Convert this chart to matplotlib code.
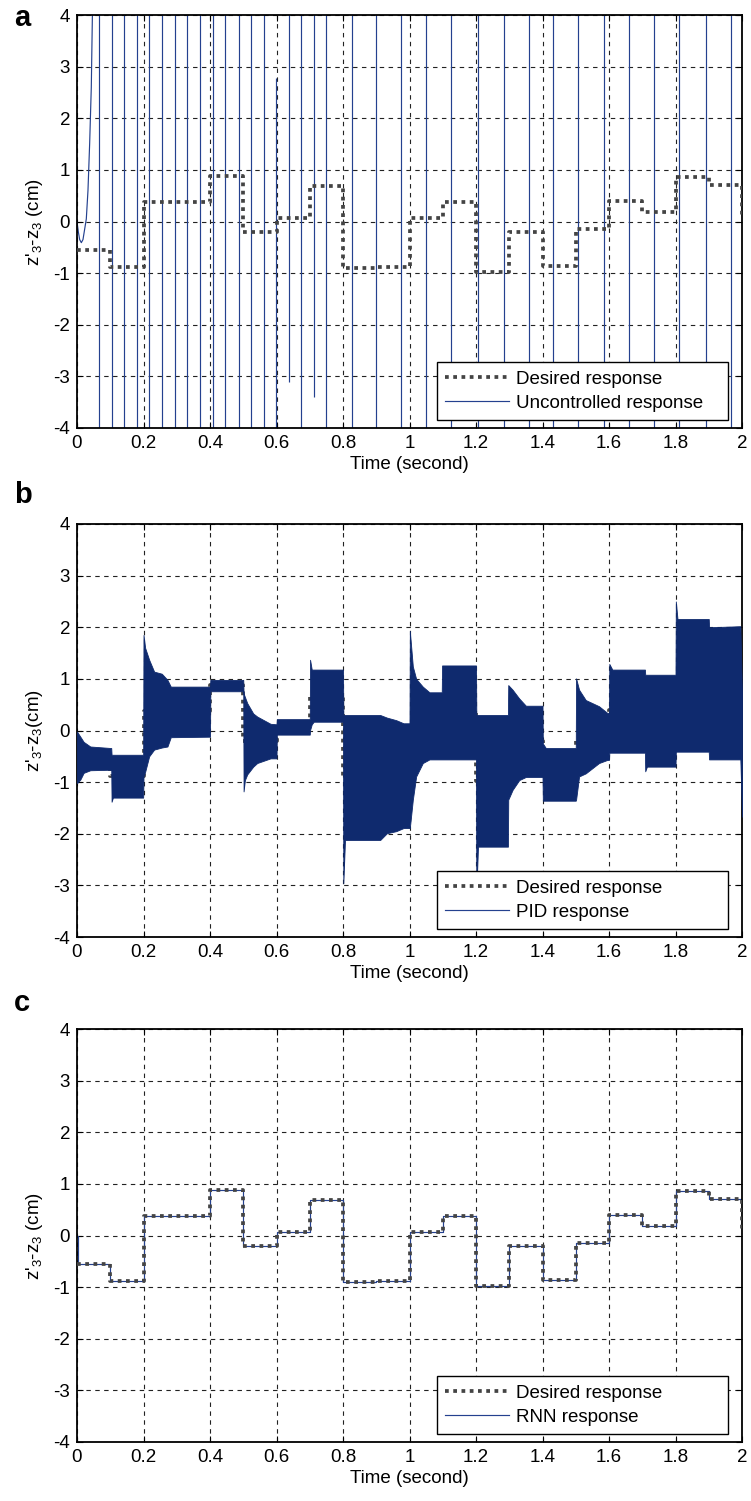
import matplotlib
matplotlib.use("Agg")
import matplotlib.pyplot as plt
from matplotlib.lines import Line2D
from matplotlib.ticker import FormatStrFormatter

plt.rcParams["font.family"] = ["Liberation Sans", "DejaVu Sans"]
plt.rcParams["mathtext.fontset"] = "custom"
plt.rcParams["mathtext.rm"] = "Liberation Sans"
plt.rcParams["mathtext.it"] = "Liberation Sans"
plt.rcParams["axes.unicode_minus"] = False

# === desired response (step levels, steps-post) ===
des_t = [0.0, 0.1, 0.2, 0.4, 0.5, 0.6, 0.7, 0.8, 0.9, 1.0, 1.1, 1.2,
         1.3, 1.4, 1.5, 1.6, 1.7, 1.8, 1.9, 2.0]
des_v = [-0.55, -0.88, 0.37, 0.88, -0.21, 0.06, 0.68, -0.91, -0.88, 0.06, 0.37, -0.97,
         -0.2, -0.87, -0.15, 0.39, 0.18, 0.87, 0.70, 0.05]

# === uncontrolled response: start of the curve + crossing lines ===
unc_t = [0.0, 0.004, 0.008, 0.013, 0.018, 0.023, 0.028, 0.033, 0.038, 0.043, 0.047]
unc_y = [0.0, -0.2, -0.35, -0.41, -0.35, -0.15, 0.05, 0.6, 1.5, 2.6, 4.3]
cross_t = [0.066, 0.104, 0.141, 0.179, 0.217, 0.255, 0.295, 0.330, 0.370, 0.409,
           0.446, 0.486, 0.524, 0.562, 0.599, 0.637, 0.675, 0.713, 0.750, 0.826,
           0.899, 0.975, 1.050, 1.126, 1.206, 1.284, 1.360, 1.433, 1.508, 1.586,
           1.659, 1.735, 1.812, 1.891, 1.967]
cross_lo = [-4.5] * 14 + [-4.5, -3.1, -4.5, -3.4] + [-4.5] * 17
cross_hi = [4.5] * 14 + [2.78, 4.5, 4.5, 4.5] + [4.5] * 17

# === PID response envelope (upper / lower edge of the oscillation band) ===
pid_t = [0.000, 0.010, 0.020, 0.040, 0.103, 0.104, 0.108, 0.199, 0.200, 0.205,
         0.217, 0.232, 0.255, 0.272, 0.282, 0.400, 0.401, 0.500, 0.501, 0.505,
         0.512, 0.530, 0.542, 0.582, 0.600, 0.601, 0.700, 0.701, 0.706, 0.712,
         0.800, 0.801, 0.806, 0.912, 0.932, 0.960, 0.982, 1.000, 1.001, 1.010,
         1.020, 1.040, 1.060, 1.097, 1.098, 1.200, 1.201, 1.206, 1.296, 1.297,
         1.310, 1.330, 1.350, 1.400, 1.401, 1.410, 1.500, 1.501, 1.510, 1.530,
         1.570, 1.595, 1.600, 1.601, 1.610, 1.708, 1.709, 1.714, 1.800, 1.801,
         1.806, 1.900, 1.901, 1.995, 2.000]
pid_hi = [-0.02, -0.12, -0.22, -0.31, -0.34, -0.47, -0.47, -0.47, 1.85, 1.60,
          1.37, 1.14, 1.10, 0.98, 0.85, 0.85, 0.98, 0.98, 0.72, 0.65,
          0.53, 0.33, 0.27, 0.13, 0.12, 0.22, 0.22, 1.37, 1.18, 1.18,
          1.18, 0.30, 0.30, 0.30, 0.25, 0.20, 0.14, 0.14, 1.93, 1.24,
          1.00, 0.85, 0.74, 0.74, 1.26, 1.26, 0.30, 0.30, 0.30, 0.88,
          0.79, 0.62, 0.48, 0.48, -0.25, -0.34, -0.34, 1.01, 0.79, 0.59,
          0.47, 0.34, 0.34, 1.29, 1.18, 1.18, 1.08, 1.08, 1.08, 2.50,
          2.16, 2.16, 2.00, 2.02, 0.70]
pid_lo = [-1.02, -0.95, -0.82, -0.77, -0.76, -1.38, -1.30, -1.30, -0.89, -0.80,
          -0.50, -0.37, -0.33, -0.31, -0.13, -0.12, 0.76, 0.76, -1.18, -0.96,
          -0.85, -0.70, -0.63, -0.54, -0.54, -0.08, -0.08, 0.01, 0.12, 0.17,
          0.17, -2.96, -2.12, -2.12, -1.99, -1.95, -1.89, -1.89, -1.89, -1.34,
          -0.89, -0.63, -0.56, -0.56, -0.56, -0.56, -3.15, -2.25, -2.25, -1.34,
          -1.15, -0.96, -0.90, -0.90, -1.36, -1.36, -1.36, -1.34, -0.89, -0.83,
          -0.63, -0.57, -0.57, -0.43, -0.43, -0.43, -0.79, -0.70, -0.70, -0.41,
          -0.41, -0.41, -0.56, -0.56, -1.67]

# === RNN response (tracks the desired steps) ===
rnn_t = [0.0, 0.004, 0.1, 0.2, 0.4, 0.5, 0.6, 0.7, 0.8, 0.9, 1.0, 1.1, 1.2,
         1.3, 1.4, 1.5, 1.6, 1.7, 1.8, 1.9, 2.0]
rnn_v = [0.0, -0.55, -0.88, 0.37, 0.88, -0.21, 0.06, 0.68, -0.91, -0.88, 0.06, 0.37, -0.97,
         -0.2, -0.87, -0.15, 0.39, 0.18, 0.87, 0.70, 0.05]

x_ticks = [0, 0.2, 0.4, 0.6, 0.8, 1.0, 1.2, 1.4, 1.6, 1.8, 2.0]
y_ticks = [-4, -3, -2, -1, 0, 1, 2, 3, 4]

FS = 13.5
DES_COLOR = "#444444"
BLUE = "#24418f"
BAND = "#0f2a6e"

fig = plt.figure(figsize=(7.51, 15.01), dpi=100)

W = 751.0
H = 1501.0
left = 77 / W
width = 665 / W
ax_h = 413 / H
tops = [15, 524, 1029]
letter_base = [26, 503, 1011]  # baseline of the panel letters (px from top)
axes = [fig.add_axes([left, 1 - (t + 413) / H, width, ax_h]) for t in tops]


def style_axes(ax, ylabel):
    ax.set_xlim(0, 2)
    ax.set_ylim(-4, 4)
    ax.set_xticks(x_ticks)
    ax.set_yticks(y_ticks)
    ax.xaxis.set_major_formatter(FormatStrFormatter("%g"))
    ax.tick_params(direction="in", top=True, right=True, length=4, width=0.8,
                   labelsize=FS, pad=5)
    ax.grid(True, color="#222222", linestyle=(0, (4, 4)), linewidth=0.8)
    ax.set_axisbelow(True)
    for sp in ax.spines.values():
        sp.set_linewidth(1.3)
    ax.set_xlabel("Time (second)", fontsize=FS, labelpad=3)
    ax.set_ylabel(ylabel, fontsize=FS, labelpad=6)


def add_legend(ax, handles, labels):
    leg = ax.legend(handles, labels, loc="lower left", mode="expand",
                    bbox_to_anchor=(0.541, 0.019, 0.4376, 0.3), borderaxespad=0,
                    fontsize=FS, handlelength=3.4, handletextpad=0.35,
                    labelspacing=0.35, borderpad=0.45, fancybox=False,
                    framealpha=1, edgecolor="black")
    leg.get_frame().set_linewidth(1.0)
    leg.set_zorder(10)


def desired(ax, z):
    line, = ax.plot(des_t, des_v, drawstyle="steps-post", color=DES_COLOR,
                    linewidth=2.7, linestyle=(0, (1, 1.2)), zorder=z)
    return line


# ---- panel a ----
ax = axes[0]
ax.vlines(cross_t, cross_lo, cross_hi, color=BLUE, linewidth=0.85, zorder=2)
unc_line, = ax.plot(unc_t, unc_y, color=BLUE, linewidth=0.85, zorder=2)
des_line = desired(ax, 3)
style_axes(ax, "z'$_3$-z$_3$ (cm)")
add_legend(ax, [des_line, unc_line], ["Desired response", "Uncontrolled response"])

# ---- panel b ----
ax = axes[1]
des_line = desired(ax, 2)
ax.fill_between(pid_t, pid_lo, pid_hi, color=BAND, linewidth=0.6, edgecolor=BAND, zorder=3)
pid_proxy = Line2D([], [], color=BLUE, linewidth=0.85)
style_axes(ax, "z'$_3$-z$_3$(cm)")
add_legend(ax, [des_line, pid_proxy], ["Desired response", "PID response"])

# ---- panel c ----
ax = axes[2]
rnn_line, = ax.plot(rnn_t, rnn_v, drawstyle="steps-post", color=BLUE, linewidth=0.85, zorder=2)
des_line = desired(ax, 3)
style_axes(ax, "z'$_3$-z$_3$ (cm)")
add_legend(ax, [des_line, rnn_line], ["Desired response", "RNN response"])

# panel letters
for letter, b in zip(["a", "b", "c"], letter_base):
    fig.text(14 / W, 1 - b / H, letter, fontsize=21, fontweight="bold",
             ha="left", va="baseline")

fig.savefig("out.png", dpi=100)
